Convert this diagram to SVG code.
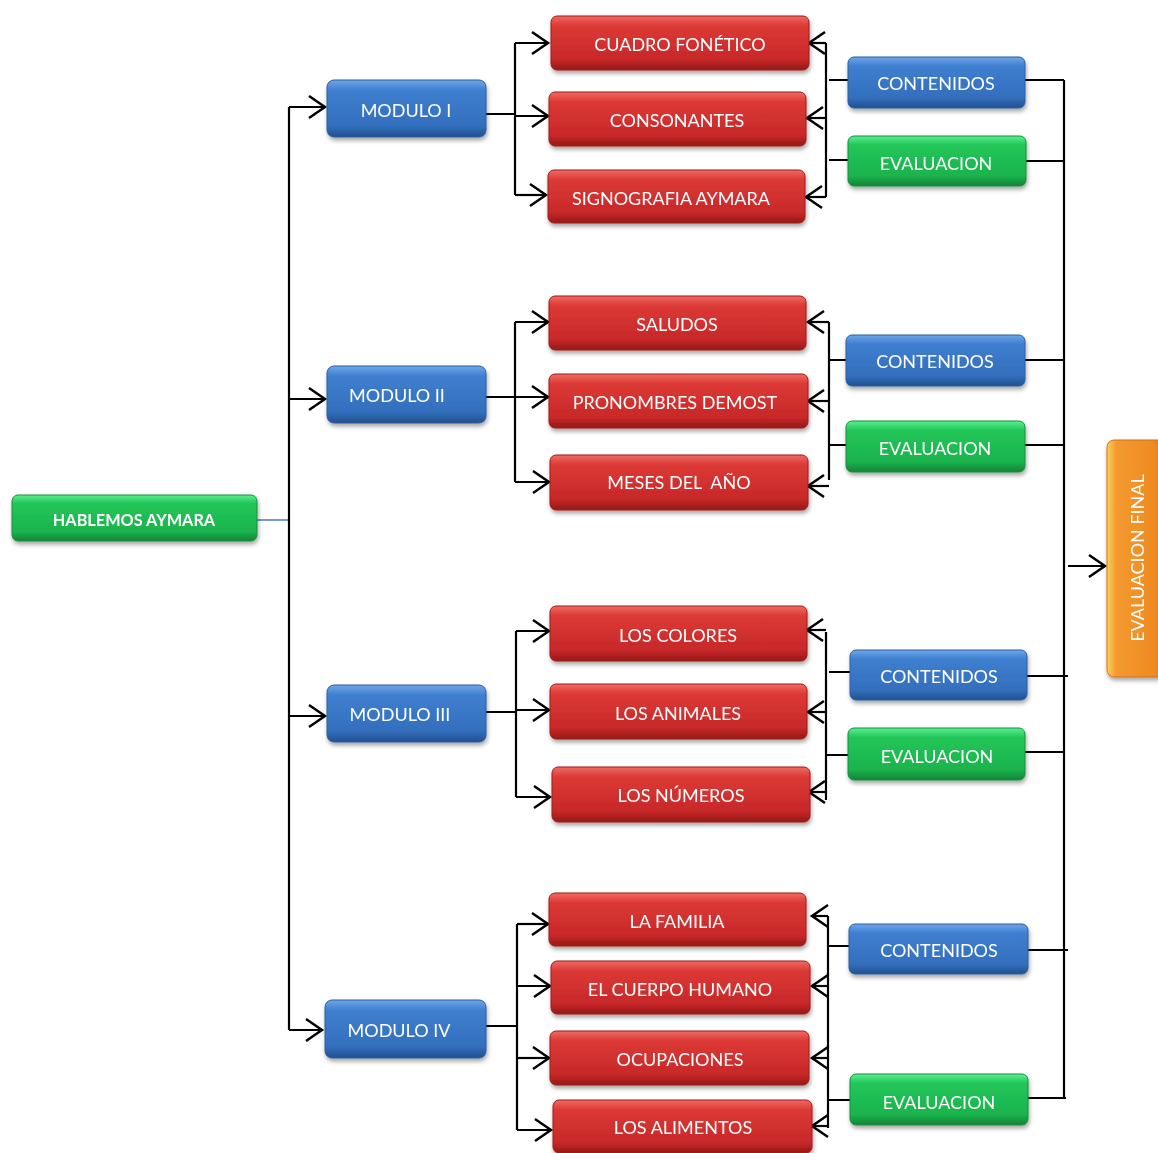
<svg xmlns="http://www.w3.org/2000/svg" width="1158" height="1153" viewBox="0 0 1158 1153">
<style>
.t{font-family:Lato,"Open Sans",sans-serif;font-size:18px;fill:#fff;text-anchor:middle;dominant-baseline:central}
.tb{font-family:Lato,"Open Sans",sans-serif;font-size:16.3px;font-weight:bold;fill:#fff;text-anchor:middle;dominant-baseline:central}
.c{fill:none;stroke:#000;stroke-width:2.2}
.r{fill:url(#gr);stroke:#a01c19;stroke-width:1}
.b{fill:url(#gb);stroke:#2d5e9e;stroke-width:1}
.g{fill:url(#gg);stroke:#14903e;stroke-width:1}
.o{fill:url(#go);stroke:#d26f14;stroke-width:1}
</style>
<defs>
<linearGradient id="gr" x1="0" y1="0" x2="0" y2="1"><stop offset="0" stop-color="#f06a64"/><stop offset="0.18" stop-color="#dc3a35"/><stop offset="0.8" stop-color="#c8282a"/><stop offset="1" stop-color="#951816"/></linearGradient>
<linearGradient id="gb" x1="0" y1="0" x2="0" y2="1"><stop offset="0" stop-color="#6fa6e8"/><stop offset="0.18" stop-color="#3f7fcf"/><stop offset="0.8" stop-color="#336fbd"/><stop offset="1" stop-color="#22508f"/></linearGradient>
<linearGradient id="gg" x1="0" y1="0" x2="0" y2="1"><stop offset="0" stop-color="#5af08d"/><stop offset="0.18" stop-color="#22c659"/><stop offset="0.8" stop-color="#1bb34d"/><stop offset="1" stop-color="#118238"/></linearGradient>
<linearGradient id="go" x1="0" y1="0" x2="1" y2="0"><stop offset="0" stop-color="#fbd15a"/><stop offset="0.15" stop-color="#f39a30"/><stop offset="0.8" stop-color="#ef8a22"/><stop offset="1" stop-color="#d46f12"/></linearGradient>
<filter id="sh" x="-10%" y="-30%" width="120%" height="170%"><feDropShadow dx="1" dy="3" stdDeviation="2" flood-color="#000" flood-opacity="0.35"/></filter>
<marker id="ah" markerWidth="24" markerHeight="28" refX="18" refY="14" orient="auto" markerUnits="userSpaceOnUse"><path d="M2,3 L18,14 L2,25" fill="none" stroke="#000" stroke-width="2.5"/></marker>
</defs>

<g id="connectors">
<line x1="257" y1="520" x2="289" y2="520" stroke="#4a78c0" stroke-width="1.5"/>
<path class="c" d="M289,107 V1030"/>
<path class="c" d="M289,107 H325" marker-end="url(#ah)"/>
<path class="c" d="M289,399 H325" marker-end="url(#ah)"/>
<path class="c" d="M289,716 H325" marker-end="url(#ah)"/>
<path class="c" d="M289,1030 H322" marker-end="url(#ah)"/>

<path class="c" d="M486,114 H515 M515,43 V195"/>
<path class="c" d="M515,43 H548" marker-end="url(#ah)"/>
<path class="c" d="M515,116 H548" marker-end="url(#ah)"/>
<path class="c" d="M515,195 H546" marker-end="url(#ah)"/>
<path class="c" d="M826,43 V197"/>
<path class="c" d="M826,43 H809" marker-end="url(#ah)"/>
<path class="c" d="M826,118 H807" marker-end="url(#ah)"/>
<path class="c" d="M826,197 H806" marker-end="url(#ah)"/>
<path class="c" d="M829,80 H848 M829,160 H848"/>
<path class="c" d="M1025,80 H1064 M1026,161 H1064"/>

<path class="c" d="M486,397 H515 M515,322 V482"/>
<path class="c" d="M515,322 H548" marker-end="url(#ah)"/>
<path class="c" d="M515,397 H548" marker-end="url(#ah)"/>
<path class="c" d="M515,482 H549" marker-end="url(#ah)"/>
<path class="c" d="M829,322 V480"/>
<path class="c" d="M829,322 H808" marker-end="url(#ah)"/>
<path class="c" d="M829,401 H808" marker-end="url(#ah)"/>
<path class="c" d="M829,486 H808" marker-end="url(#ah)"/>
<path class="c" d="M829,360 H846 M829,445 H846"/>
<path class="c" d="M1025,360 H1064 M1025,445 H1064"/>

<path class="c" d="M486,712 H516 M516,631 V797"/>
<path class="c" d="M516,631 H549" marker-end="url(#ah)"/>
<path class="c" d="M516,710 H549" marker-end="url(#ah)"/>
<path class="c" d="M516,797 H550" marker-end="url(#ah)"/>
<path class="c" d="M826,632 V800"/>
<path class="c" d="M826,630 H807" marker-end="url(#ah)"/>
<path class="c" d="M826,712 H808" marker-end="url(#ah)"/>
<path class="c" d="M826,792 H809" marker-end="url(#ah)"/>
<path class="c" d="M829,672 H850 M826,755 H848"/>
<path class="c" d="M1027,676 H1068 M1025,752 H1064"/>

<path class="c" d="M486,1026 H517 M517,924 V1130"/>
<path class="c" d="M517,924 H548" marker-end="url(#ah)"/>
<path class="c" d="M517,986 H550" marker-end="url(#ah)"/>
<path class="c" d="M517,1058 H549" marker-end="url(#ah)"/>
<path class="c" d="M517,1130 H551" marker-end="url(#ah)"/>
<path class="c" d="M828,916 V1128"/>
<path class="c" d="M828,916 H812" marker-end="url(#ah)"/>
<path class="c" d="M828,986 H812" marker-end="url(#ah)"/>
<path class="c" d="M828,1058 H812" marker-end="url(#ah)"/>
<path class="c" d="M828,1126 H812" marker-end="url(#ah)"/>
<path class="c" d="M828,946 H849 M828,1100 H850"/>
<path class="c" d="M1028,950 H1068 M1028,1098 H1066"/>

<path class="c" d="M1064,80 V1098"/>
<path class="c" d="M1068,566 H1105" marker-end="url(#ah)"/>
</g>

<g id="hablemos" filter="url(#sh)"><rect class="g" x="12" y="495" width="245" height="46" rx="6"/><text class="tb" x="134" y="519">HABLEMOS AYMARA</text></g>

<g id="modulo1" filter="url(#sh)"><rect class="b" x="327" y="80" width="159" height="57" rx="7"/><text class="t" x="406" y="110">MODULO I</text></g>
<g id="modulo2" filter="url(#sh)"><rect class="b" x="327" y="366" width="159" height="57" rx="7"/><text class="t" x="397" y="395">MODULO II</text></g>
<g id="modulo3" filter="url(#sh)"><rect class="b" x="327" y="685" width="159" height="57" rx="7"/><text class="t" x="400" y="714">MODULO III</text></g>
<g id="modulo4" filter="url(#sh)"><rect class="b" x="325" y="1000" width="161" height="58" rx="7"/><text class="t" x="399" y="1030">MODULO IV</text></g>

<g id="cuadro" filter="url(#sh)"><rect class="r" x="551" y="16" width="258" height="54" rx="6"/><text class="t" x="680" y="44">CUADRO FONÉTICO</text></g>
<g id="consonantes" filter="url(#sh)"><rect class="r" x="549" y="92" width="257" height="54" rx="6"/><text class="t" x="677" y="120">CONSONANTES</text></g>
<g id="signografia" filter="url(#sh)"><rect class="r" x="548" y="170" width="257" height="53" rx="6"/><text class="t" x="671" y="198">SIGNOGRAFIA AYMARA</text></g>
<g id="contenidos1" filter="url(#sh)"><rect class="b" x="848" y="57" width="177" height="51" rx="6"/><text class="t" x="936" y="83">CONTENIDOS</text></g>
<g id="evaluacion1" filter="url(#sh)"><rect class="g" x="848" y="136" width="178" height="50" rx="6"/><text class="t" x="936" y="163">EVALUACION</text></g>

<g id="saludos" filter="url(#sh)"><rect class="r" x="549" y="296" width="257" height="54" rx="6"/><text class="t" x="677" y="324">SALUDOS</text></g>
<g id="pronombres" filter="url(#sh)"><rect class="r" x="549" y="374" width="259" height="54" rx="6"/><text class="t" x="675" y="402">PRONOMBRES DEMOST</text></g>
<g id="meses" filter="url(#sh)"><rect class="r" x="550" y="455" width="258" height="55" rx="6"/><text class="t" x="679" y="482" xml:space="preserve">MESES DEL  AÑO</text></g>
<g id="contenidos2" filter="url(#sh)"><rect class="b" x="846" y="335" width="179" height="51" rx="6"/><text class="t" x="935" y="361">CONTENIDOS</text></g>
<g id="evaluacion2" filter="url(#sh)"><rect class="g" x="846" y="421" width="179" height="51" rx="6"/><text class="t" x="935" y="448">EVALUACION</text></g>

<g id="colores" filter="url(#sh)"><rect class="r" x="550" y="606" width="257" height="55" rx="6"/><text class="t" x="678" y="635">LOS COLORES</text></g>
<g id="animales" filter="url(#sh)"><rect class="r" x="550" y="684" width="257" height="55" rx="6"/><text class="t" x="678" y="713">LOS ANIMALES</text></g>
<g id="numeros" filter="url(#sh)"><rect class="r" x="552" y="767" width="258" height="55" rx="6"/><text class="t" x="681" y="795">LOS NÚMEROS</text></g>
<g id="contenidos3" filter="url(#sh)"><rect class="b" x="850" y="650" width="177" height="50" rx="6"/><text class="t" x="939" y="676">CONTENIDOS</text></g>
<g id="evaluacion3" filter="url(#sh)"><rect class="g" x="848" y="728" width="177" height="52" rx="6"/><text class="t" x="937" y="756">EVALUACION</text></g>

<g id="familia" filter="url(#sh)"><rect class="r" x="549" y="893" width="257" height="53" rx="6"/><text class="t" x="677" y="921">LA FAMILIA</text></g>
<g id="cuerpo" filter="url(#sh)"><rect class="r" x="551" y="961" width="259" height="53" rx="6"/><text class="t" x="680" y="989">EL CUERPO HUMANO</text></g>
<g id="ocupaciones" filter="url(#sh)"><rect class="r" x="550" y="1031" width="259" height="54" rx="6"/><text class="t" x="680" y="1059">OCUPACIONES</text></g>
<g id="alimentos" filter="url(#sh)"><rect class="r" x="553" y="1100" width="259" height="53" rx="6"/><text class="t" x="683" y="1127">LOS ALIMENTOS</text></g>
<g id="contenidos4" filter="url(#sh)"><rect class="b" x="849" y="924" width="179" height="50" rx="6"/><text class="t" x="939" y="950">CONTENIDOS</text></g>
<g id="evaluacion4" filter="url(#sh)"><rect class="g" x="850" y="1074" width="178" height="51" rx="6"/><text class="t" x="939" y="1102">EVALUACION</text></g>

<g id="evaluacion_final" filter="url(#sh)"><rect class="o" x="1107" y="440" width="60" height="237" rx="7"/><text class="t" x="1137" y="558" transform="rotate(-90 1137 558)">EVALUACION FINAL</text></g>
</svg>
